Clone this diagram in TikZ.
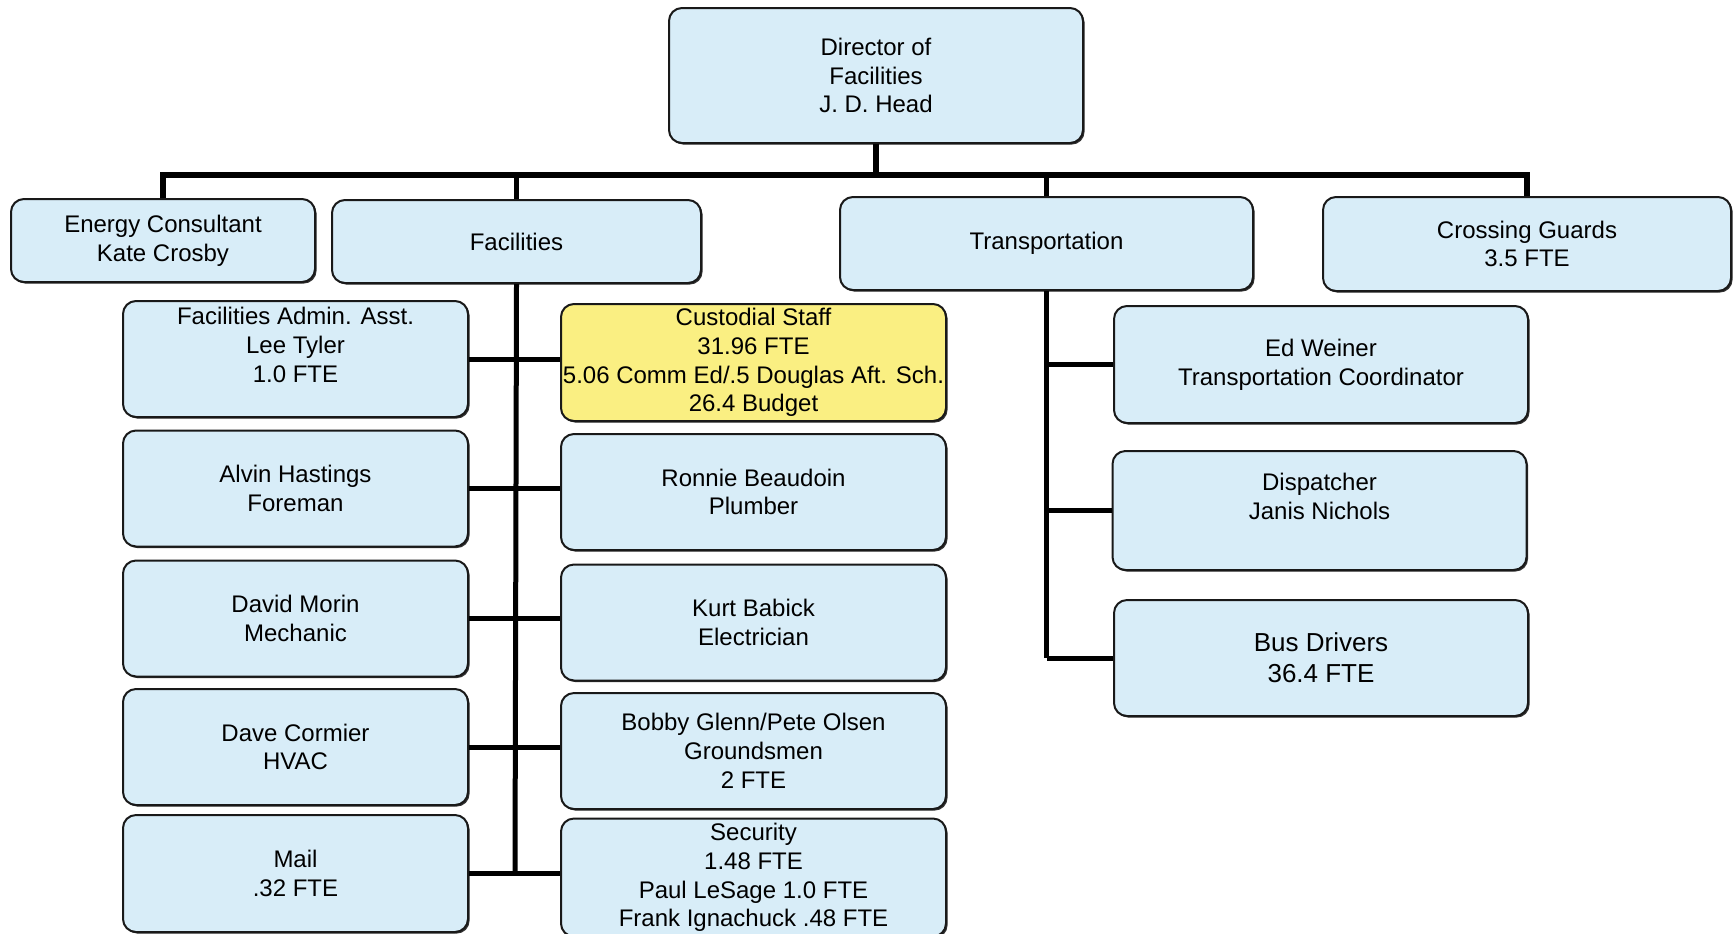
\documentclass[tikz,border=0pt]{standalone}
\usepackage{fontspec}
\setmainfont{Liberation Sans}
\usetikzlibrary{shadows}
\definecolor{boxblue}{RGB}{216,237,248}
\definecolor{boxyellow}{RGB}{250,239,130}
\definecolor{edgec}{RGB}{25,25,25}
\begin{document}
\begin{tikzpicture}[x=0.5pt,y=-0.5pt,
  orgbox/.style={draw=edgec, line width=1pt, fill=boxblue, rounded corners=6.5pt,
    align=center, inner sep=0pt, font=\fontsize{12}{14.4}\selectfont,
    drop shadow={shadow xshift=0.8pt, shadow yshift=-0.8pt, fill=black!80, opacity=1}},
  yelbox/.style={orgbox, fill=boxyellow},
  leftcol/.style={orgbox, minimum width=172.5pt, minimum height=58pt},
  rightcol/.style={orgbox, minimum width=192.5pt, minimum height=58pt},
  trcol/.style={orgbox, minimum width=207pt, minimum height=58.5pt},
  conn/.style={line width=2.5pt, draw=black, line join=miter},
  busline/.style={line width=3pt, draw=black, line join=miter}]
\useasboundingbox (0,0) rectangle (1733,933);
\fill[white] (0,0) rectangle (1733,933);

% top level
\node[orgbox, minimum width=207pt, minimum height=67.5pt] (dir) at (876,75.5) {Director of\\Facilities\\J. D. Head};
\node[orgbox, minimum width=152pt, minimum height=41.5pt] (energy) at (163,240.5) {Energy Consultant\\Kate Crosby};
\node[orgbox, minimum width=184.5pt, minimum height=41.5pt] (fac) at (516.5,241.5) {Facilities};
\node[orgbox, minimum width=206.5pt, minimum height=46.5pt] (trans) at (1046.5,243.5) {Transportation};
\node[orgbox, minimum width=204pt, minimum height=47pt] (cross) at (1527,244) {Crossing Guards\\3.5 FTE};

% facilities left column
\node[leftcol] (admin) at (295.5,359) {Facilities Admin. Asst.\\Lee Tyler\\1.0 FTE\\\mbox{}};
\node[leftcol] (alvin) at (295.5,488.5) {Alvin Hastings\\Foreman};
\node[leftcol] (david) at (295.5,618.5) {David Morin\\Mechanic};
\node[leftcol] (cormier) at (295.5,747) {Dave Cormier\\HVAC};
\node[leftcol, minimum height=58.5pt] (mail) at (295.5,873.5) {Mail\\.32 FTE};

% facilities right column
\node[rightcol, fill=boxyellow, minimum height=58.5pt] (cust) at (753.5,362.5) {Custodial Staff\\31.96 FTE\\5.06 Comm Ed/.5 Douglas Aft. Sch.\\26.4 Budget};
\node[rightcol] (ronnie) at (753.5,492) {Ronnie Beaudoin\\Plumber};
\node[rightcol] (kurt) at (753.5,622.5) {Kurt Babick\\Electrician};
\node[rightcol] (bobby) at (753.5,751) {Bobby Glenn/Pete Olsen\\Groundsmen\\2 FTE};
\node[rightcol, minimum height=59pt] (sec) at (753.5,877.5) {Security\\1.48 FTE\\Paul LeSage 1.0 FTE\\Frank Ignachuck .48 FTE};

% transportation column
\node[trcol] (ed) at (1321,364.5) {Ed Weiner\\Transportation Coordinator};
\node[trcol, minimum height=59.5pt] (disp) at (1319.5,510.5) {Dispatcher\\Janis Nichols\\\mbox{}};
\node[trcol, minimum height=58pt, font=\fontsize{13}{15.5}\selectfont] (bus) at (1321,658) {Bus Drivers\\36.4 FTE};

% connectors
\coordinate (busy) at (0,175);
\draw[busline] (energy.north) -- (energy.north |- busy) -- (cross.north |- busy) -- (cross.north);
\draw[busline] (dir.south) -- (dir.south |- busy);
\draw[conn] (fac.north) -- (fac.north |- busy);
\draw[conn] (trans.north) -- (trans.north |- busy);

\coordinate (ftrunk) at (515,0);
\draw[conn] (fac.south) -- (ftrunk |- mail.east);
\foreach \l/\r in {admin/cust, alvin/ronnie, david/kurt, cormier/bobby, mail/sec} {
  \draw[conn] (\l.east) -- (\l.east -| \r.west);
}

\draw[conn] (trans.south) -- (trans.south |- bus.west);
\foreach \c in {ed, disp, bus} {
  \draw[conn] (trans.south |- \c.west) -- (\c.west);
}
\end{tikzpicture}
\end{document}
